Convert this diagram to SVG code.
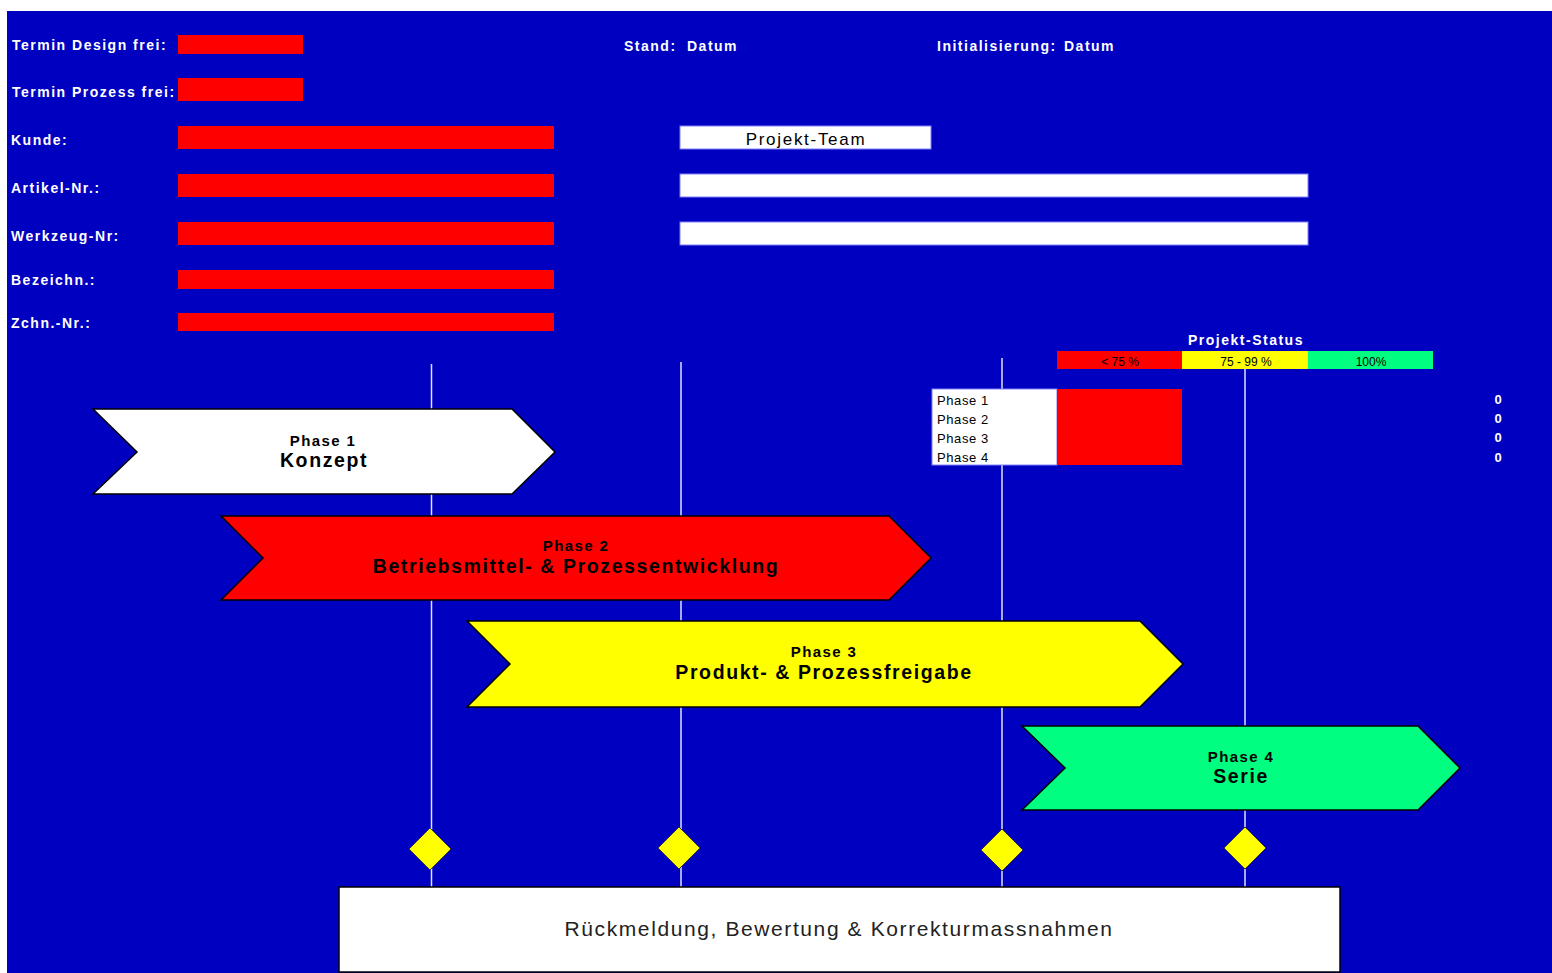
<svg xmlns="http://www.w3.org/2000/svg" width="1552" height="973" viewBox="0 0 1552 973">
<style>
.lbl{font-family:"Liberation Sans",Arial,sans-serif;font-weight:bold;font-size:14px;fill:#fff;letter-spacing:1.5px}
.bar{fill:#f00}
.wbar{fill:#fff;stroke:#8080ff;stroke-width:1}
.vline{stroke:#e0e0ff;stroke-width:1.5;fill:none}
.arrow{stroke:#000;stroke-width:1.5}
.ph{font-family:"Liberation Sans",Arial,sans-serif;font-weight:bold;font-size:15px;fill:#000;text-anchor:middle;letter-spacing:1.4px}
.pt{font-family:"Liberation Sans",Arial,sans-serif;font-weight:bold;font-size:19.5px;fill:#000;text-anchor:middle;letter-spacing:1.6px}
.dia{fill:#ff0;stroke:#333;stroke-width:1}
.sm{font-family:"Liberation Sans",Arial,sans-serif;font-size:13px;fill:#000;letter-spacing:0.6px}
.leg{font-family:"Liberation Sans",Arial,sans-serif;font-size:12px;fill:#000;text-anchor:middle}
.zero{font-family:"Liberation Sans",Arial,sans-serif;font-weight:bold;font-size:13px;fill:#fff;text-anchor:middle}
</style>
<rect x="0" y="0" width="1552" height="973" fill="#fff"/>
<rect x="7" y="11" width="1545" height="962" fill="#0000c0"/>

<g id="header">
<text class="lbl" x="12" y="50">Termin Design frei:</text>
<rect class="bar" x="178" y="35" width="125" height="19"/>
<text class="lbl" x="12" y="97" letter-spacing="1.9">Termin Prozess frei:</text>
<rect class="bar" x="178" y="78" width="125" height="23"/>
<text class="lbl" x="11" y="145">Kunde:</text>
<rect class="bar" x="178" y="126" width="376" height="23"/>
<text class="lbl" x="11" y="193">Artikel-Nr.:</text>
<rect class="bar" x="178" y="174" width="376" height="23"/>
<text class="lbl" x="11" y="241">Werkzeug-Nr:</text>
<rect class="bar" x="178" y="222" width="376" height="23"/>
<text class="lbl" x="11" y="285">Bezeichn.:</text>
<rect class="bar" x="178" y="270" width="376" height="19"/>
<text class="lbl" x="11" y="328">Zchn.-Nr.:</text>
<rect class="bar" x="178" y="313" width="376" height="18"/>
<text class="lbl" x="624" y="51">Stand:</text>
<text class="lbl" x="687" y="51">Datum</text>
<text class="lbl" x="937" y="51">Initialisierung:</text>
<text class="lbl" x="1064" y="51">Datum</text>
</g>

<g id="team">
<rect class="wbar" x="680" y="126" width="251" height="23"/>
<text x="806" y="145" font-family="'Liberation Sans',Arial,sans-serif" font-size="17" fill="#000" text-anchor="middle" letter-spacing="1.7">Projekt-Team</text>
<rect class="wbar" x="680" y="174" width="628" height="23"/>
<rect class="wbar" x="680" y="222" width="628" height="23"/>
</g>

<g id="connectors">
<line class="vline" x1="431.5" y1="364" x2="431.5" y2="888"/>
<line class="vline" x1="681" y1="362" x2="681" y2="888"/>
<line class="vline" x1="1002" y1="358" x2="1002" y2="888"/>
<line class="vline" x1="1245" y1="369" x2="1245" y2="888"/>
</g>

<g id="status">
<text class="lbl" x="1246" y="345" text-anchor="middle">Projekt-Status</text>
<rect x="1057" y="351" width="125" height="18" fill="#f00"/>
<rect x="1182" y="351" width="126" height="18" fill="#ff0"/>
<rect x="1308" y="351" width="125" height="18" fill="#00ff80"/>
<text class="leg" x="1120" y="366">&lt; 75 %</text>
<text class="leg" x="1246" y="366">75 - 99 %</text>
<text class="leg" x="1371" y="366">100%</text>
</g>

<g id="phase-table">
<rect x="932" y="389" width="125" height="76" fill="#fff" stroke="#8080ff" stroke-width="1"/>
<rect x="1057" y="389" width="125" height="76" fill="#f00"/>
<text class="sm" x="937" y="405">Phase 1</text>
<text class="sm" x="937" y="424">Phase 2</text>
<text class="sm" x="937" y="443">Phase 3</text>
<text class="sm" x="937" y="462">Phase 4</text>
<text class="zero" x="1498" y="404">0</text>
<text class="zero" x="1498" y="423">0</text>
<text class="zero" x="1498" y="442">0</text>
<text class="zero" x="1498" y="462">0</text>
</g>

<g id="phase1">
<polygon class="arrow" fill="#fff" points="93,409 512,409 555,452 512,494 93,494 137,452"/>
<text class="ph" x="323" y="446">Phase 1</text>
<text class="pt" x="324" y="467">Konzept</text>
</g>

<g id="phase2">
<polygon class="arrow" fill="#f00" points="221,516 889,516 931,558 889,600 221,600 263,558"/>
<text class="ph" x="576" y="551">Phase 2</text>
<text class="pt" x="576" y="573">Betriebsmittel- &amp; Prozessentwicklung</text>
</g>

<g id="phase3">
<polygon class="arrow" fill="#ff0" points="467,621 1140,621 1183,664 1140,707 467,707 510,664"/>
<text class="ph" x="824" y="657">Phase 3</text>
<text class="pt" x="824" y="679">Produkt- &amp; Prozessfreigabe</text>
</g>

<g id="phase4">
<polygon class="arrow" fill="#00ff80" points="1022,726 1418,726 1460,768 1418,810 1022,810 1065,768"/>
<text class="ph" x="1241" y="762">Phase 4</text>
<text class="pt" x="1241" y="783">Serie</text>
</g>

<g id="milestones">
<polygon class="dia" points="430,828 451,849 430,870 409,849"/>
<polygon class="dia" points="679,827 700,848 679,869 658,848"/>
<polygon class="dia" points="1002,829 1023,850 1002,871 981,850"/>
<polygon class="dia" points="1245,827 1266,848 1245,869 1224,848"/>
</g>

<g id="feedback">
<rect x="339" y="887" width="1001" height="85" fill="#fff" stroke="#000" stroke-width="1.5"/>
<text x="839" y="936" font-family="'Liberation Sans',Arial,sans-serif" font-size="21" fill="#222" text-anchor="middle" letter-spacing="1.6">Rückmeldung, Bewertung &amp; Korrekturmassnahmen</text>
</g>
</svg>
